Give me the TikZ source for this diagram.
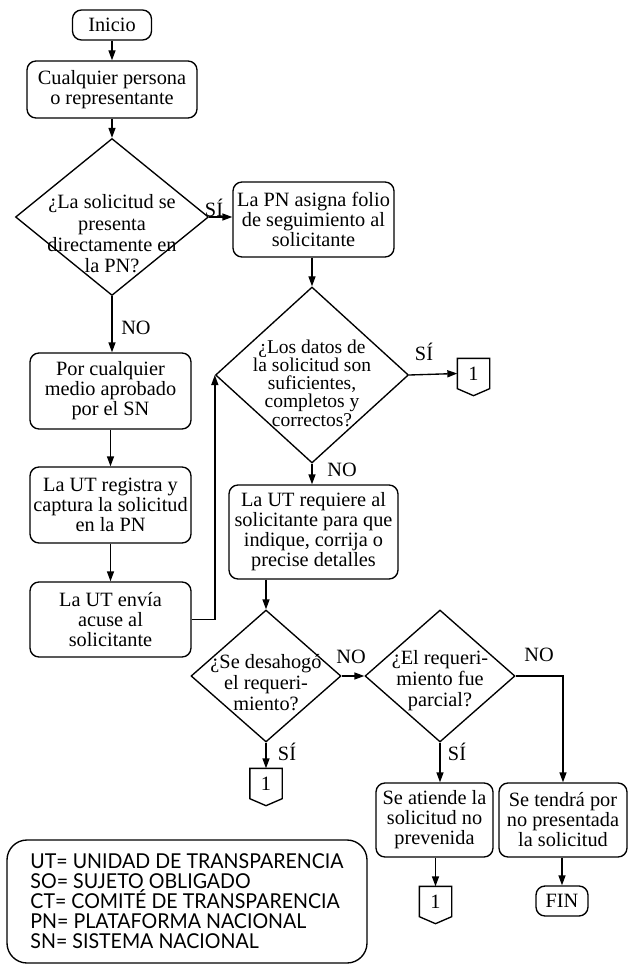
\documentclass[tikz,border=0pt]{standalone}
\usepackage{fontspec}
\setmainfont{Liberation Serif}
\newfontfamily\legendfont[FakeStretch=0.955]{Lato}
\usetikzlibrary{shapes.geometric,arrows.meta}

\begin{document}
\begin{tikzpicture}[x=1pt,y=-1pt,
  line width=1.35pt,
  every node/.style={font=\fontsize{20.3}{20}\selectfont},
  proc/.style={draw, rounded corners=9pt, align=center, inner sep=0pt},
  dia/.style={draw, diamond, inner sep=0pt},
  dtxt/.style={align=center, inner sep=0pt},
  conn/.style={minimum width=31pt, minimum height=29pt, inner sep=0pt},
  arr/.style={-{Triangle[length=10pt,width=7pt]}},
  lbl/.style={inner sep=0pt}]

\useasboundingbox (0,0) rectangle (628,965);

% left column
\node[proc, minimum width=79pt, minimum height=30pt] (ini) at (112,25) {Inicio};
\node[proc, minimum width=170pt, minimum height=57pt] (cp) at (112,89.5) {Cualquier persona\\o representante};
\node[dia, minimum width=193pt, minimum height=157pt] (d1) at (112,217) {};
\node[dtxt, font=\fontsize{20.3}{21.3}\selectfont] (d1t) at (112,234) {¿La solicitud se\\presenta\\directamente en\\la PN?};
\node[proc, minimum width=161pt, minimum height=76pt] (pc) at (110.5,391) {Por cualquier\\medio aprobado\\por el SN};
\node[proc, minimum width=161pt, minimum height=76pt] (reg) at (110.5,505) {La UT registra y\\captura la solicitud\\en la PN};
\node[proc, minimum width=161pt, minimum height=75pt] (env) at (110.5,619.5) {La UT envía\\acuse al\\solicitante};

% middle column
\node[proc, minimum width=161pt, minimum height=75pt] (pn) at (313.5,219.5) {La PN asigna folio\\de seguimiento al\\solicitante};
\node[dia, minimum width=193pt, minimum height=176pt] (d2) at (312,375) {};
\node[dtxt, font=\fontsize{19.5}{18.2}\selectfont] (d2t) at (312,383) {¿Los datos de\\la solicitud son\\suficientes,\\completos y\\correctos?};
\node[conn] (c1) at (473.5,373.5) {1};
\node[proc, minimum width=169pt, minimum height=94pt] (req) at (313.5,532) {La UT requiere al\\solicitante para que\\indique, corrija o\\precise detalles};
\node[dia, minimum width=150pt, minimum height=132pt] (d3) at (266,676) {};
\node[dtxt, font=\fontsize{20.3}{21}\selectfont] (d3t) at (266,683) {¿Se desahogó\\el requeri-\\miento?};
\node[conn] (c2) at (266,783.5) {1};

% right column
\node[dia, minimum width=150pt, minimum height=132pt] (d4) at (440,676) {};
\node[dtxt, font=\fontsize{20.3}{21}\selectfont] (d4t) at (440,681) {¿El requeri-\\miento fue\\parcial?};
\node[proc, minimum width=117pt, minimum height=74pt] (sa) at (434.5,820) {Se atiende la\\solicitud no\\prevenida};
\node[proc, minimum width=128pt, minimum height=74pt] (st) at (563,820) {Se tendrá por\\no presentada\\la solicitud};
\node[conn] (c3) at (435.5,901.5) {1};
\node[proc, minimum width=52pt, minimum height=30pt] (fin) at (562,901) {FIN};

% off-page connector outlines
\foreach \n in {c1,c2,c3}
  \draw (\n.north west) -- (\n.north east) -- (\n.south east)
        -- ([yshift=-7pt]\n.south) -- (\n.south west) -- cycle;

% abbreviations
\node[draw, rounded corners=20pt, minimum width=360pt, minimum height=123pt,
      align=left, inner sep=0pt, font=\legendfont\fontsize{20.5}{20}\selectfont]
  (leg) at (187,901.5)
  {UT= UNIDAD DE TRANSPARENCIA\\SO= SUJETO OBLIGADO\\CT= COMITÉ DE TRANSPARENCIA\\PN= PLATAFORMA NACIONAL\\SN= SISTEMA NACIONAL};

% connectors
\draw[arr] (ini) -- (cp);
\draw[arr] (cp) -- (d1.north);
\draw[arr] (d1.east) -- (d1.east -| pn.west);
\draw[arr] (d1.south) -- (d1.south |- pc.north);
\draw[arr] (pc) -- (reg);
\draw[arr] (reg) -- (env);
\draw[arr] (env.east) -| (d2.west);
\draw[arr] (pn.south -| d2.north) -- (d2.north);
\draw[arr] (d2.east) -- (c1.west);
\draw[arr] (d2.south) -- (d2.south |- req.north);
\draw[arr] (d3.north |- req.south) -- (d3.north);
\draw[arr] (d3.east) -- (d4.west);
\draw[arr] (d3.south) -- (c2.north);
\draw[arr] (d4.south) -- (d4.south |- sa.north);
\draw[arr] (d4.east) -| (st.north);
\draw[arr] (sa.south -| c3.north) -- (c3.north);
\draw[arr] (st.south -| fin.north) -- (fin.north);

% branch labels
\node[lbl] (l1) at (214,208) {SÍ};
\node[lbl] (l2) at (136,328) {NO};
\node[lbl] (l3) at (424,352) {SÍ};
\node[lbl] (l4) at (342,470) {NO};
\node[lbl] (l5) at (351,657) {NO};
\node[lbl] (l6) at (539,655) {NO};
\node[lbl] (l7) at (287,752) {SÍ};
\node[lbl] (l8) at (457,752) {SÍ};
\end{tikzpicture}
\end{document}
